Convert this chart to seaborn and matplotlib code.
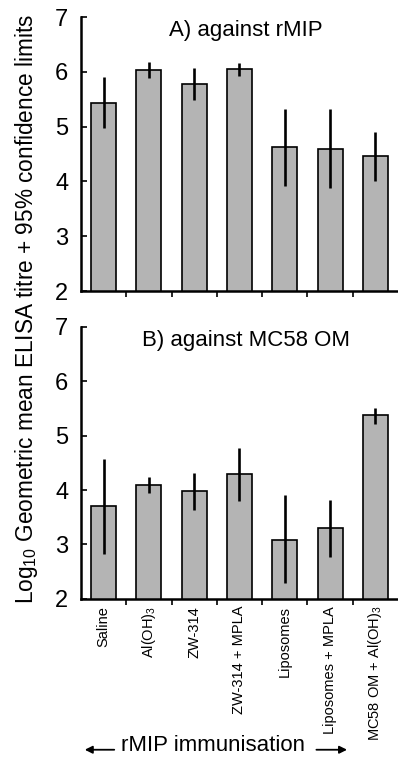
import pandas as pd
import seaborn as sns
import matplotlib.pyplot as plt

groups = ['Saline', 'Al(OH)$_3$', 'ZW-314', 'ZW-314 + MPLA', 'Liposomes',
          'Liposomes + MPLA', 'MC58 OM + Al(OH)$_3$']

# A) against rMIP
a_mean = [5.44, 6.04, 5.78, 6.05, 4.63, 4.60, 4.46]
a_lo = [4.98, 5.88, 5.48, 5.93, 3.92, 3.88, 4.01]
a_hi = [5.91, 6.18, 6.07, 6.16, 5.33, 5.33, 4.91]

# B) against MC58 OM
b_mean = [3.71, 4.09, 3.98, 4.29, 3.08, 3.31, 5.37]
b_lo = [2.82, 3.94, 3.63, 3.79, 2.29, 2.77, 5.22]
b_hi = [4.57, 4.24, 4.32, 4.77, 3.91, 3.81, 5.51]

sns.set_style('ticks')
plt.rcParams['font.family'] = ['Liberation Sans', 'DejaVu Sans']
plt.rcParams['mathtext.default'] = 'regular'
for k in ['text.color', 'axes.labelcolor', 'xtick.color', 'ytick.color']:
    plt.rcParams[k] = 'black'

fig = plt.figure(figsize=(3.98, 7.6), dpi=100)
ax1 = fig.add_axes([0.2035, 0.617, 0.7965, 0.3605])
ax2 = fig.add_axes([0.2035, 0.212, 0.7965, 0.358])


def panel(ax, mean, lo, hi, title):
    df = pd.DataFrame({'group': groups, 'titre': mean})
    sns.barplot(data=df, x='group', y='titre', ax=ax, color='#b4b4b4',
                edgecolor='black', linewidth=1.2, width=0.55, saturation=1)
    ax.vlines(range(len(groups)), lo, hi, color='black', lw=1.9, zorder=5)
    ax.set_ylim(2, 7)
    ax.set_xlim(-0.5, 6.5)
    ax.set_yticks([2, 3, 4, 5, 6, 7])
    ax.set_xlabel('')
    ax.set_ylabel('')
    for s in ['top', 'right']:
        ax.spines[s].set_visible(False)
    for s in ['left', 'bottom']:
        ax.spines[s].set_linewidth(1.8)
        ax.spines[s].set_color('black')
    ax.tick_params(axis='y', direction='in', length=4, width=1.2,
                   labelsize=17, pad=9)
    ax.tick_params(axis='x', which='major', length=0, pad=5, labelsize=10.5,
                   labelrotation=90)
    ax.set_xticks([i + 0.5 for i in range(len(groups) - 1)], minor=True)
    ax.tick_params(axis='x', which='minor', direction='out', length=4,
                   width=1.2)
    ax.text(0.52, 0.99, title, transform=ax.transAxes, ha='center',
            va='top', fontsize=16)


panel(ax1, a_mean, a_lo, a_hi, 'A) against rMIP')
panel(ax2, b_mean, b_lo, b_hi, 'B) against MC58 OM')
ax1.set_xticklabels([])
for lab in ax2.get_xticklabels():
    lab.set_va('top')

fig.text(0.066, 0.594, 'Log$_{10}$ Geometric mean ELISA titre + 95% confidence limits',
         rotation=90, ha='center', va='center', fontsize=16.3)

fig.text(0.535, 0.005, 'rMIP immunisation', ha='center', va='bottom',
         fontsize=16)
arrow = dict(arrowstyle='-|>', color='black', lw=1.3, mutation_scale=11,
             shrinkA=0, shrinkB=0)
ay = 0.0135
fig.add_artist(plt.matplotlib.patches.FancyArrowPatch(
    (0.287, ay), (0.213, ay), transform=fig.transFigure, **arrow))
fig.add_artist(plt.matplotlib.patches.FancyArrowPatch(
    (0.795, ay), (0.872, ay), transform=fig.transFigure, **arrow))

fig.savefig('out.png', dpi=100)
